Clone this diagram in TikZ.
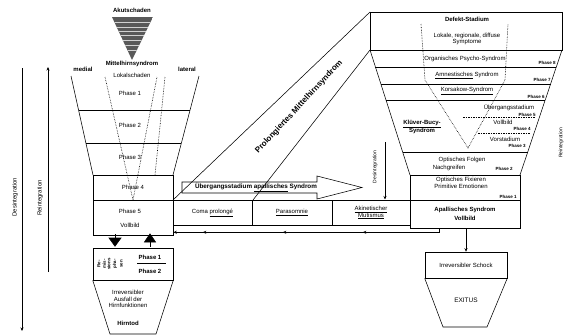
\documentclass[tikz,border=0pt]{standalone}
\usepackage{fontspec}
\setmainfont{Liberation Sans}
\usetikzlibrary{arrows.meta,calc,decorations.markings}
\begin{document}
\begin{tikzpicture}[x=1pt,y=-1pt,line width=0.55pt,
  every node/.style={inner sep=0pt, align=center},
  txt/.style={font=\fontsize{6}{6.8}\selectfont},
  btxt/.style={font=\fontsize{6}{6.8}\selectfont\bfseries},
  ptxt/.style={font=\fontsize{4.5}{5}\selectfont\bfseries},
  rtxt/.style={rotate=90, font=\fontsize{4.4}{4.6}\selectfont\bfseries},
  boxn/.style={draw, minimum width=#1},
  dotl/.style={densely dotted, line width=0.6pt},
  dashl/.style={dash pattern=on 1.5pt off 1pt, line width=0.4pt},
  arr/.style={-{Stealth[length=3.5pt,width=3pt]}}]
\useasboundingbox (0,0) rectangle (565,335);

% ---------- top triangle ----------
\node[btxt] (akut) at (132,10) {Akutschaden};
\begin{scope}
  \clip (112,17) -- (153,17) -- (132,60) -- cycle;
  \fill[gray!70!black] (112,17) rectangle (153,60);
  \foreach \yy in {22,27,31,35,40,45,50} \draw[gray!35,line width=0.4pt] (110,\yy) -- (155,\yy);
\end{scope}
\node[btxt] (mhs) at (132,63.5) {Mittelhirnsyndrom};
\node[txt] (lok) at (132,75.5) {Lokalschaden};
\node[btxt] (medial) at (83,69) {medial};
\node[btxt] (lateral) at (187,69) {lateral};

% ---------- left funnel ----------
\coordinate (L1) at (71,76);  \coordinate (L2) at (93,175);
\coordinate (R1) at (199,76); \coordinate (R2) at (173,175);
\draw (L1) -- (L2);
\draw (R1) -- (R2);
\draw ($(L1)!0.343!(L2)$) -- ($(R1)!0.343!(R2)$);
\draw ($(L1)!0.677!(L2)$) -- ($(R1)!0.677!(R2)$);
\draw[dotl] (105,77) -- (133,200) -- (157,77);
\draw[dotl] (165,77) -- (155,175);
\node[txt] (ph1) at (130,93) {Phase 1};
\node[txt] (ph2) at (130,125) {Phase 2};
\node[txt] (ph3) at (130,157) {Phase 3};
\node[boxn=80pt, minimum height=25pt, txt] (ph4) at (133,187.5) {Phase 4};
\node[boxn=80pt, minimum height=35pt] (ph5) at (133,217.5) {};
\node[txt] (ph5t) at (130,211) {Phase 5};
\node[txt] (vb5) at (130,225) {Vollbild};

% ---------- left arrows ----------
\coordinate (dl1) at (22,68); \coordinate (dl2) at (22,331);
\draw[arr] (dl1) -- (dl2);
\node[txt, rotate=90] (desL) at (15,197) {Desintegration};
\coordinate (rl1) at (48,272); \coordinate (rl2) at (48,67);
\draw[arr] (rl1) -- (rl2);
\node[txt, rotate=90] (reiL) at (40,198) {Reintegration};

% ---------- lower left ----------
\node[boxn=80pt, minimum height=32pt] (low) at (133,264) {};
\draw[-{Triangle[length=9pt,width=13pt]}] ($(ph5.south)+(-18,-1)$) -- ($(low.north)+(-18,-1)$);
\draw[-{Triangle[length=9pt,width=12pt]}] ($(low.north)+(17,-1)$) -- ($(ph5.south)+(17,-2)$);
\node[rtxt] (rm1) at (99,264) {Re-};
\node[rtxt] (rm2) at (106.5,264) {mis-\\sions};
\node[rtxt] (rm3) at (115,264) {pha-};
\node[rtxt] (rm4) at (121.5,264) {sen};
\node[btxt] (lp1) at (150,257) {Phase 1};
\draw[line width=0.4pt] (137,263.5) -- (166,263.5);
\node[btxt] (lp2) at (150,271) {Phase 2};
\draw (low.south west) -- (110,334) -- (156,334) -- (low.south east);
\node[txt] (irr) at (128,299) {Irreversibler\\Ausfall der\\Hirnfunktionen};
\node[btxt] (tod) at (128,323) {Hirntod};

% ---------- prolonged band ----------
\coordinate (b1) at (173,200); \coordinate (b2) at (370,12);
\coordinate (b3) at (253,200); \coordinate (b4) at (370,50);
\draw (b1) -- (b2);
\draw (b3) -- (b4);
\node[font=\fontsize{8}{9}\selectfont\bfseries, rotate=47] (prol) at (299,107) {Prolongiertes Mittelhirnsyndrom};

% ---------- transition arrow ----------
\draw (182,182) -- (317,182) -- (317,176) -- (362,187.5) -- (317,199) -- (317,193) -- (182,193) -- cycle;
\node[btxt, font=\fontsize{6.3}{7}\selectfont\bfseries] (ueb) at (256,187.5) {Übergangsstadium \underline{apallisches} Syndrom};

% ---------- middle row ----------
\node[boxn=79pt, minimum height=25pt, txt] (coma) at (212.5,212.5) {Coma \underline{prolongé}};
\node[boxn=80pt, minimum height=25pt, txt] (para) at (292,212.5) {\underline{Parasomnie}};
\node[boxn=78pt, minimum height=25pt, txt] (akin) at (371,212.5) {\underline{Akinetischer}\\\underline{Mutismus}};
\node[boxn=110pt, minimum height=28pt, btxt] (apal) at (465,214) {Apallisches Syndrom\\[2pt]Vollbild};

% feedback line
\draw[arr, postaction={decorate}, decoration={markings,
   mark=at position 81pt with {\arrow{Stealth[length=3.5pt,width=3pt]}},
   mark=at position 161pt with {\arrow{Stealth[length=3.5pt,width=3pt]}},
   mark=at position 241pt with {\arrow{Stealth[length=3.5pt,width=3pt]}}}]
   ($(apal.south west)+(30,0)$) |- ($(ph5.south east)+(0,-3)$);

% ---------- right funnel ----------
\node[boxn=192pt, minimum height=38pt] (def) at (466,31) {};
\node[btxt] (deft) at (467,19.5) {Defekt-Stadium};
\node[txt] (symp) at (467,39) {Lokale, regionale, diffuse\\Symptome};
\coordinate (F1) at (370,50); \coordinate (F2) at (410,175);
\coordinate (G1) at (562,50); \coordinate (G2) at (520,175);
\draw (F1) -- (F2);
\draw (G1) -- (G2);
\draw ($(F1)!0.136!(F2)$) -- ($(G1)!0.136!(G2)$);
\draw ($(F1)!0.272!(F2)$) -- ($(G1)!0.272!(G2)$);
\draw ($(F1)!0.4!(F2)$) -- ($(G1)!0.4!(G2)$);
\draw ($(F1)!0.816!(F2)$) -- ($(G1)!0.816!(G2)$);
\draw[dotl] (421,24) -- (425,80) -- (468,148) -- (505,80) -- (508,24);
\draw[dashl] (463,117) -- (535,117);
\draw[dashl] (478,133) -- (530,133);

\node[txt] (ops) at (465,59) {Organisches Psycho-Syndrom};
\node[ptxt, anchor=east] (p8) at (556,63) {Phase 8};
\node[txt] (amn) at (467,75.5) {\underline{Amnestisches} Syndrom};
\node[ptxt, anchor=east] (p7) at (551,80) {Phase 7};
\node[txt] (kor) at (467,91) {\underline{Korsakow-Syndrom}};
\node[ptxt, anchor=east] (p6) at (545,97) {Phase 6};
\node[txt] (ueg) at (509,108) {Übergangsstadium};
\node[ptxt, anchor=east] (p5) at (536,114.5) {Phase 5};
\node[txt] (vbr) at (503,122.5) {Vollbild};
\node[ptxt, anchor=east] (p4) at (531,129) {Phase 4};
\node[txt] (vst) at (505,139) {Vorstadium};
\node[ptxt, anchor=east] (p3) at (526,145.5) {Phase 3};
\node[btxt] (kbs) at (422,127) {\underline{Klüver-Bucy-}\\Syndrom};
\node[txt] (ofo) at (462,160) {Optisches Folgen};
\node[txt] (nach) at (449,168) {Nachgreifen};
\node[ptxt] (p2) at (504,169) {Phase 2};
\node[boxn=110pt, minimum height=25pt] (ofi) at (465,187.5) {};
\node[txt] (ofit) at (461,183) {Optisches Fixieren\\Primitive Emotionen};
\node[ptxt] (p1) at (508,197) {Phase 1};

\coordinate (dr1) at (385,142); \coordinate (dr2) at (385,199.5);
\draw[arr] (dr1) -- (dr2);
\node[txt, rotate=90, font=\fontsize{5}{6}\selectfont] (desR) at (375,167) {Desintegration};
\node[txt, rotate=90, font=\fontsize{5}{6}\selectfont] (reiR) at (561,143) {Reintegration};

% ---------- lower right ----------
\node[boxn=82pt, minimum height=26pt, txt] (schock) at (466,265) {Irreversibler Schock};
\draw[arr] (apal.south -| schock.north) -- (schock.north);
\draw (schock.south west) -- (443,327) -- (487,327) -- (schock.south east);
\node[btxt, font=\fontsize{6.5}{7}\selectfont] (exitus) at (466,300) {EXITUS};
\end{tikzpicture}
\end{document}
